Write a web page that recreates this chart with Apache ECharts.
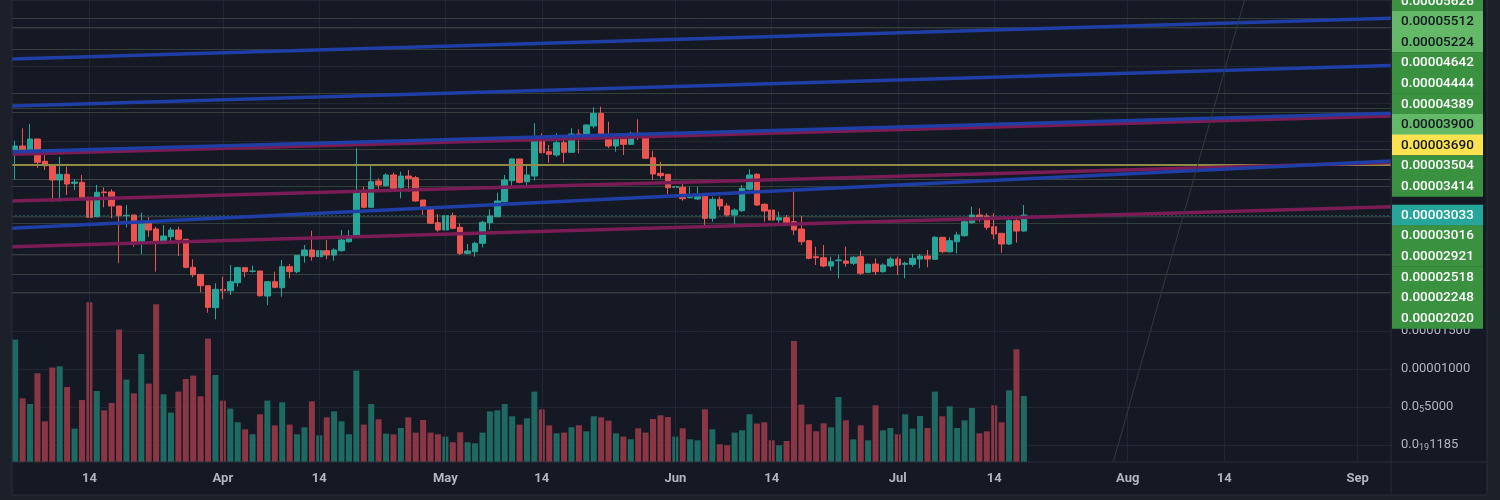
<!DOCTYPE html>
<html>
<head>
<meta charset="utf-8">
<title>Daily chart</title>
<script src="https://cdn.jsdelivr.net/npm/echarts@6/dist/echarts.min.js"></script>
<style>
  html, body { margin: 0; padding: 0; background: #151924; }
  #chart { width: 1500px; height: 500px; }
</style>
</head>
<body>
<div id="chart"></div>
<script>
// prices are kept in units of 1e-8 (3033 -> 0.00003033)
const startDate = [2024, 2, 4]   // Mar 4
const dayCount = 186             // up to Sep 5, the right part is empty

const opens = [
  3854, 3942, 3880, 4034, 3740, 3682, 3494, 3569, 3450, 3463,
  3266, 3010, 3336, 3336, 3151, 3023, 3032, 2659, 2931, 2848,
  2680, 2746, 2835, 2712, 2343, 2250, 2100, 1810, 2053, 2034,
  2140, 2338, 2290, 2294, 1964, 2153, 2074, 2351, 2285, 2496,
  2571, 2483, 2562, 2505, 2562, 2680, 2746, 3340, 3134, 3481,
  3419, 3560, 3392, 3546, 3524, 3230, 3134, 2931, 2835, 3023,
  2870, 2527, 2548, 2659, 2931, 3010, 3208, 3485, 3771, 3471,
  3546, 4065, 3867, 3823, 3986, 3859, 4100, 4030, 4206, 4373,
  4087, 3942, 4034, 3964, 4109, 4065, 3788, 3582, 3569, 3398,
  3398, 3260, 3243, 3296, 2989, 3239, 3151, 3032, 3089, 3371,
  3569, 3173, 3098, 2966, 2997, 2944, 2848, 2694, 2483, 2469,
  2360, 2430, 2426, 2396, 2483, 2277, 2386, 2285, 2360, 2452,
  2382, 2382, 2452, 2492, 2448, 2738, 2548, 2680, 2759, 2931,
  3032, 3019, 2878, 2791, 2650, 2957, 2821
]
const closes = [
  3942, 3880, 4034, 3727, 3682, 3494, 3569, 3441, 3467, 3260,
  3002, 3332, 3326, 3151, 3023, 3028, 2650, 2931, 2835, 2680,
  2755, 2835, 2712, 2343, 2245, 2100, 1815, 2053, 2034, 2153,
  2338, 2285, 2294, 1968, 2153, 2079, 2351, 2285, 2501, 2571,
  2483, 2562, 2505, 2571, 2703, 2759, 3340, 3134, 3471, 3428,
  3560, 3384, 3546, 3516, 3217, 3134, 2923, 2835, 3023, 2857,
  2527, 2558, 2659, 2936, 3019, 3217, 3494, 3771, 3463, 3560,
  4065, 3854, 3833, 3986, 3859, 4100, 4030, 4219, 4373, 4078,
  3942, 4030, 3964, 4109, 4065, 3780, 3573, 3551, 3392, 3405,
  3247, 3274, 3296, 2989, 3239, 3151, 3032, 3098, 3384, 3560,
  3164, 3085, 2966, 2997, 2931, 2835, 2680, 2461, 2469, 2360,
  2417, 2439, 2396, 2475, 2264, 2382, 2285, 2373, 2452, 2373,
  2396, 2461, 2492, 2452, 2738, 2548, 2694, 2769, 2944, 3032,
  3002, 2870, 2782, 2650, 2957, 2821, 3033
]
const lows = [
  3503, 3846, 3880, 3656, 3626, 3208, 3208, 3296, 3362, 3230,
  2865, 3002, 3134, 2989, 2396, 2870, 2614, 2518, 2746, 2285,
  2659, 2680, 2492, 2330, 2211, 2013, 1744, 1657, 1921, 1978,
  2087, 2211, 2272, 1955, 1846, 2066, 1955, 2198, 2264, 2403,
  2430, 2475, 2448, 2430, 2548, 2667, 2738, 3121, 3134, 3340,
  3405, 3362, 3252, 3340, 3208, 3032, 2914, 2812, 2825, 2844,
  2505, 2518, 2483, 2606, 2835, 3002, 3200, 3415, 3450, 3419,
  3485, 3846, 3722, 3801, 3722, 3854, 3846, 4021, 4175, 4065,
  3912, 3867, 3823, 3955, 4021, 3771, 3494, 3516, 3309, 3283,
  3221, 3252, 3230, 2870, 2944, 3098, 3010, 2914, 3076, 3353,
  3151, 2944, 2957, 2914, 2914, 2769, 2637, 2448, 2373, 2343,
  2298, 2198, 2351, 2373, 2241, 2264, 2241, 2272, 2343, 2241,
  2198, 2351, 2330, 2343, 2439, 2527, 2535, 2527, 2746, 2914,
  2944, 2835, 2712, 2535, 2637, 2667, 2812
]
const highs = [
  4012, 4175, 4232, 4034, 3902, 3682, 3801, 3669, 3507, 3560,
  3682, 3428, 3398, 3371, 3151, 3164, 3032, 3063, 3002, 2878,
  2900, 2870, 2878, 2712, 2448, 2250, 2100, 2132, 2219, 2373,
  2351, 2338, 2364, 2294, 2153, 2285, 2439, 2386, 2501, 2637,
  2825, 2593, 2703, 2593, 2835, 2835, 3912, 3405, 3678, 3516,
  3582, 3590, 3603, 3626, 3546, 3230, 3134, 3046, 3076, 3063,
  2923, 2650, 2680, 2957, 3107, 3326, 3560, 3780, 3771, 3705,
  4241, 4109, 3955, 4109, 4021, 4175, 4162, 4228, 4452, 4460,
  4262, 4065, 4065, 4131, 4294, 4074, 3880, 3735, 3569, 3428,
  3485, 3405, 3405, 3318, 3274, 3274, 3187, 3121, 3428, 3635,
  3582, 3187, 3107, 3076, 3032, 3384, 3023, 2694, 2614, 2637,
  2483, 2505, 2614, 2492, 2562, 2396, 2461, 2396, 2483, 2483,
  2417, 2518, 2518, 2571, 2755, 2738, 2738, 2812, 2989, 3142,
  3121, 3055, 3055, 2791, 2989, 2989, 3164
]
const volumes = [
  1224, 637, 580, 887, 407, 944, 957, 750, 334, 620,
  1597, 710, 517, 590, 1324, 824, 687, 1080, 784, 1577,
  677, 494, 704, 830, 864, 657, 1234, 870, 614, 534,
  397, 327, 277, 477, 614, 367, 597, 374, 277, 347,
  607, 267, 447, 507, 407, 277, 914, 374, 580, 427,
  284, 277, 340, 447, 294, 420, 294, 277, 254, 197,
  297, 197, 187, 294, 507, 517, 580, 457, 374, 437,
  704, 527, 367, 287, 294, 347, 367, 307, 457, 447,
  414, 287, 254, 227, 337, 294, 430, 467, 450, 254,
  337, 227, 217, 527, 327, 177, 167, 294, 317, 477,
  384, 397, 217, 167, 210, 1210, 574, 377, 307, 387,
  347, 650, 417, 227, 367, 217, 567, 317, 340, 277,
  477, 334, 460, 340, 704, 457, 557, 340, 417, 540,
  287, 307, 567, 397, 717, 1127, 660
]

// horizontal levels with their price labels on the right
const levelPrices = [5626, 5512, 5224, 4642, 4444, 4389, 3900, 3690, 3504, 3414, 3033, 3016, 2921, 2518, 2248, 2020]
const levelKinds  = ['dark', 'light', 'light', 'dark', 'dark', 'dark', 'light', 'yellow', 'dark', 'dark', 'current', 'dark', 'dark', 'dark', 'dark', 'dark']

// trend lines: [day index, price]
const trendA = [[-0.5, 5089], [185.5, 5626]]
const trendB = [[-0.5, 4469], [185.5, 5003]]
const trendC = [[-0.5, 3867], [185.5, 4373]]
const trendC2 = [[-0.5, 3833], [185.5, 4337]]
const trendD = [[-0.5, 3217], [185.5, 3726]]
const trendE = [[-0.5, 2857], [185.5, 3744]]
const trendF = [[-0.5, 2614], [185.5, 3142]]
const thinRay = [[148.05, -224], [165.75, 5867]]

// price scale ticks shown on the right
const tickValues = [0, 500, 1000, 1500]
const tickLabels = [['0.0', '19', '1185'], ['0.0', '5', '5000'], ['0.00001000', '', ''], ['0.00001500', '', '']]
const monthNames = ['Jan', 'Feb', 'Mar', 'Apr', 'May', 'Jun', 'Jul', 'Aug', 'Sep', 'Oct', 'Nov', 'Dec']

const categories = []
for (let i = 0; i < dayCount; i++) {
  const d = new Date(Date.UTC(startDate[0], startDate[1], startDate[2] + i))
  categories.push(d.toISOString().slice(0, 10))
}
const isLabelDay = (v) => v.slice(8) === '01' || v.slice(8) === '14'
const labelDays = categories.filter(isLabelDay)

const UP = '#26a69a'
const DOWN = '#ef5350'
const BLUE = '#1f3fa6'
const PURPLE = '#7a1c55'
const FONT = 'Roboto, "Noto Sans", sans-serif'
const GRID_COLOR = '#222632'
const FRAME = '#2a2e39'

const ohlc = opens.map((o, i) => [o, closes[i], lows[i], highs[i]])
const volData = volumes.map((v, i) => ({
  value: v,
  itemStyle: { color: closes[i] >= opens[i] ? '#1e6a62' : '#8a3644' }
}))

function levelLine(p, kind) {
  if (kind === 'yellow') return { yAxis: p, lineStyle: { color: '#8f8a48', width: 2, type: 'solid' } }
  if (kind === 'current') return { yAxis: p, lineStyle: { color: UP, width: 1, type: [1, 3], opacity: 0.8 } }
  return { yAxis: p, lineStyle: { color: 'rgba(120,150,110,0.3)', width: 1, type: 'solid' } }
}

function trend(data, color, width) {
  return {
    type: 'line', xAxisIndex: 2, yAxisIndex: 0, data, showSymbol: false, silent: true,
    lineStyle: { color, width: width || 3.5 }, z: 5, clip: false
  }
}

const option = {
  animation: false,
  backgroundColor: '#151924',
  grid: [
    { left: 11.5, right: 109, top: 0, bottom: 55 },
    { left: 11.5, right: 109, top: 0, bottom: 38 }
  ],
  xAxis: [
    { type: 'category', gridIndex: 0, data: categories, show: false },
    {
      type: 'category', gridIndex: 1, data: categories,
      axisLine: { show: false }, axisTick: { show: false }, splitLine: { show: false },
      axisLabel: {
        interval: (idx, v) => isLabelDay(v),
        formatter: (v) => v.slice(8) === '01' ? monthNames[+v.slice(5, 7) - 1] : '14',
        color: '#b2b5be', fontSize: 13, fontWeight: 'bold', fontFamily: FONT, margin: 10
      }
    },
    { type: 'value', gridIndex: 0, min: -0.5, max: 185.5, show: false }
  ],
  yAxis: [
    {
      type: 'value', gridIndex: 0, position: 'right', min: 0, max: 5867, interval: 500,
      axisLine: { show: false }, axisTick: { show: false },
      splitLine: { lineStyle: { color: GRID_COLOR, width: 1 } },
      axisLabel: {
        margin: 10, color: '#b2b5be', fontSize: 13, fontFamily: FONT,
        formatter: (v) => {
          const i = tickValues.indexOf(Math.round(v))
          if (i < 0) return ''
          const [a, s, b] = tickLabels[i]
          return s ? '{n|' + a + '}{s|' + s + '}{n|' + b + '}' : '{n|' + a + '}'
        },
        rich: {
          n: { fontSize: 13, color: '#b2b5be', fontFamily: FONT },
          s: { fontSize: 9, color: '#b2b5be', fontFamily: FONT, padding: [5, 0, 0, 0] }
        }
      }
    },
    { type: 'value', gridIndex: 1, min: 0, max: 4620, show: false, splitLine: { show: false } }
  ],
  series: [
    {
      name: 'volume', type: 'bar', xAxisIndex: 1, yAxisIndex: 1, data: volData,
      barWidth: 6, z: 1, silent: true,
      markLine: {
        silent: true, symbol: ['none', 'none'], label: { show: false },
        lineStyle: { color: GRID_COLOR, width: 1, type: 'solid' },
        data: labelDays.map(d => ({ xAxis: d }))
      }
    },
    {
      name: 'price', type: 'candlestick', xAxisIndex: 0, yAxisIndex: 0, data: ohlc,
      barWidth: 6, z: 3, silent: true,
      itemStyle: { color: UP, color0: DOWN, borderColor: UP, borderColor0: DOWN, borderWidth: 1 },
      markLine: {
        silent: true, symbol: ['none', 'none'], label: { show: false },
        data: levelPrices.map((p, i) => levelLine(p, levelKinds[i]))
      }
    },
    trend(trendA, BLUE),
    trend(trendB, BLUE),
    trend(trendC2, PURPLE),
    trend(trendC, BLUE),
    trend(trendD, PURPLE),
    trend(trendE, BLUE),
    trend(trendF, PURPLE),
    trend(thinRay, '#2f3c39', 1)
  ],
  graphic: [
    { type: 'rect', id: 'edgeL', shape: { x: 0, y: 0, width: 12, height: 500 }, style: { fill: '#1c2029' }, z: 50 },
    { type: 'rect', id: 'edgeR', shape: { x: 1487, y: 0, width: 13, height: 500 }, style: { fill: '#1c2029' }, z: 50 },
    { type: 'rect', id: 'edgeB', shape: { x: 0, y: 495, width: 1500, height: 5 }, style: { fill: '#1c2029' }, z: 50 },
    { type: 'line', id: 'frL', shape: { x1: 12, y1: 0, x2: 12, y2: 495 }, style: { stroke: FRAME, lineWidth: 1 }, z: 51 },
    { type: 'line', id: 'frR', shape: { x1: 1391, y1: 0, x2: 1391, y2: 495 }, style: { stroke: FRAME, lineWidth: 1 }, z: 51 },
    { type: 'line', id: 'frR2', shape: { x1: 1487, y1: 0, x2: 1487, y2: 495 }, style: { stroke: FRAME, lineWidth: 1 }, z: 51 },
    { type: 'line', id: 'frX', shape: { x1: 12, y1: 462, x2: 1487, y2: 462 }, style: { stroke: FRAME, lineWidth: 1 }, z: 51 },
    { type: 'line', id: 'frB', shape: { x1: 12, y1: 495, x2: 1487, y2: 495 }, style: { stroke: FRAME, lineWidth: 1 }, z: 51 }
  ]
}

const chart = echarts.init(document.getElementById('chart'))
chart.setOption(option)

// price labels on the right, stacked like the platform does when they collide
function placeLevelLabels() {
  const h = 20.6
  const fills = { dark: '#3a9140', light: '#63b967', yellow: '#fbe24f', current: '#26a69a' }
  const inks = { dark: '#ffffff', light: '#131722', yellow: '#131722', current: '#ffffff' }
  const items = levelPrices.map((p, i) => ({
    p, kind: levelKinds[i], y: chart.convertToPixel({ yAxisIndex: 0 }, p)
  }))
  items.sort((a, b) => a.y - b.y)
  const k = items.findIndex(it => it.kind === 'current')
  for (let i = k - 1; i >= 0; i--) items[i].y = Math.min(items[i].y, items[i + 1].y - h)
  for (let i = k + 1; i < items.length; i++) items[i].y = Math.max(items[i].y, items[i - 1].y + h)

  const els = []
  items.forEach((it, i) => {
    els.push({
      type: 'rect', id: 'box' + i, z: 60,
      shape: { x: 1392, y: it.y - h / 2, width: 91, height: h + 0.4 },
      style: { fill: fills[it.kind] }
    })
    els.push({
      type: 'text', id: 'txt' + i, z: 61, x: 1401, y: it.y + 0.5,
      style: {
        text: (it.p / 1e8).toFixed(8), fill: inks[it.kind],
        font: '500 13.5px ' + FONT, align: 'left', verticalAlign: 'middle'
      }
    })
  })
  chart.setOption({ graphic: els })
}
placeLevelLabels()
</script>
</body>
</html>
